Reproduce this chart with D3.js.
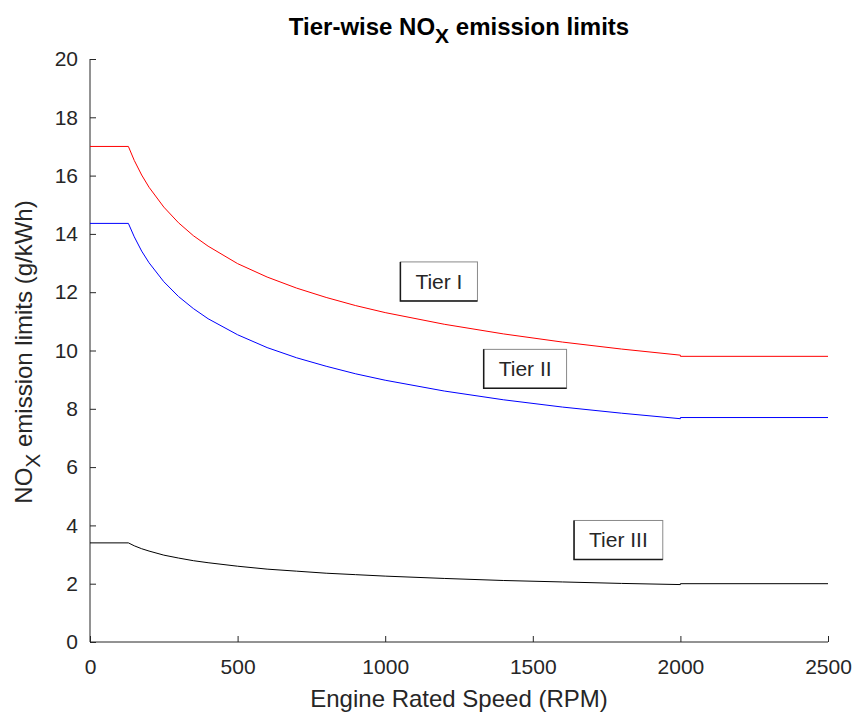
<!DOCTYPE html>
<html>
<head>
<meta charset="utf-8">
<script src="https://cdn.jsdelivr.net/npm/d3@7"></script>
<style>
  html, body { margin: 0; padding: 0; background: #fff; }
  svg { display: block; font-family: "Liberation Sans", Arial, Helvetica, sans-serif; }
</style>
</head>
<body>
<svg id="chart" width="854" height="713"></svg>
<script>
// Engine rated speed samples (RPM)
const rpm = [0, 130, 150, 175, 200, 250, 300, 350, 400, 500, 600, 700, 800, 900,
             1000, 1200, 1400, 1600, 1800, 2000, 2000, 2500];
// NOx limits (g/kWh) per tier at each speed sample
const tier1 = [17.00, 17.00, 16.52, 16.02, 15.60, 14.92, 14.38, 13.94, 13.58, 12.98, 12.52, 12.14, 11.82, 11.54,
               11.30, 10.90, 10.57, 10.29, 10.05, 9.84, 9.80, 9.80];
const tier2 = [14.36, 14.36, 13.90, 13.41, 13.01, 12.36, 11.85, 11.44, 11.09, 10.54, 10.10, 9.75, 9.46, 9.20,
               8.98, 8.61, 8.31, 8.06, 7.85, 7.66, 7.70, 7.70];
const tier3 = [3.40, 3.40, 3.30, 3.20, 3.12, 2.98, 2.88, 2.79, 2.72, 2.60, 2.50, 2.43, 2.36, 2.31,
               2.26, 2.18, 2.11, 2.06, 2.01, 1.97, 2.00, 2.00];
const seriesNames = ["Tier I", "Tier II", "Tier III"];
const seriesColors = ["#ff0000", "#0000ff", "#000000"];
// Label centre positions in data units (rpm, g/kWh)
const labelPos = [[1182, 12.37], [1474, 9.37], [1790, 3.50]];
const xTicks = [0, 500, 1000, 1500, 2000, 2500];
const yTicks = [0, 2, 4, 6, 8, 10, 12, 14, 16, 18, 20];

const svg = d3.select("#chart");
const mLeft = 90, mRight = 828, mTop = 59, mBottom = 642;
const axisColor = "#262626";
const font = "'Liberation Sans', Arial, sans-serif";

const x = d3.scaleLinear().domain([0, 2500]).range([mLeft, mRight]);
const y = d3.scaleLinear().domain([0, 20]).range([mBottom, mTop]);

// Axes with inward ticks
const xAxis = d3.axisBottom(x).tickValues(xTicks).tickSize(-6).tickPadding(17).tickFormat(d3.format("d"));
const yAxis = d3.axisLeft(y).tickValues(yTicks).tickSize(-6).tickPadding(12).tickFormat(d3.format("d"));

const gx = svg.append("g").attr("transform", `translate(0,${mBottom})`).call(xAxis);
const gy = svg.append("g").attr("transform", `translate(${mLeft},0)`).call(yAxis);
[gx, gy].forEach(g => {
  g.select(".domain").attr("stroke", axisColor).attr("stroke-width", 1);
  g.selectAll(".tick line").attr("stroke", axisColor);
  g.selectAll(".tick text").attr("fill", axisColor).style("font-size", "21px")
    .style("font-family", font);
});
gx.select(".domain").attr("d", `M${mLeft},0H${mRight}`);
gy.select(".domain").attr("d", `M0,${mBottom}V${mTop}`);

// Curves
const line = d3.line().x(d => x(d[0])).y(d => y(d[1]));
[tier1, tier2, tier3].forEach((vals, i) => {
  svg.append("path")
    .datum(rpm.map((r, k) => [r, vals[k]]))
    .attr("fill", "none")
    .attr("stroke", seriesColors[i])
    .attr("stroke-width", 1)
    .attr("d", line);
});

// Boxed tier labels
seriesNames.forEach((name, i) => {
  const g = svg.append("g");
  const t = g.append("text")
    .attr("x", x(labelPos[i][0]))
    .attr("y", y(labelPos[i][1]))
    .attr("text-anchor", "middle")
    .attr("dominant-baseline", "central")
    .attr("fill", axisColor)
    .style("font-size", "21px")
    .text(name);
  const bb = t.node().getBBox();
  const bx = bb.x - 15, by = bb.y - 8, bw = bb.width + 30, bh = bb.height + 16;
  g.insert("rect", "text")
    .attr("x", bx).attr("y", by).attr("width", bw).attr("height", bh)
    .attr("fill", "#fff")
    .attr("stroke", "#8a8a8a")
    .attr("stroke-width", 1);
  g.append("path")
    .attr("d", `M${bx},${by}V${by + bh}H${bx + bw}`)
    .attr("fill", "none")
    .attr("stroke", "#1a1a1a")
    .attr("stroke-width", 1.5);
});

// Title
const title = svg.append("text")
  .attr("x", (mLeft + mRight) / 2)
  .attr("y", 35)
  .attr("text-anchor", "middle")
  .attr("fill", "#000")
  .style("font-size", "24px")
  .style("font-weight", "bold");
title.append("tspan").text("Tier-wise NO");
title.append("tspan").attr("dy", 8).style("font-size", "21px").text("X");
title.append("tspan").attr("dy", -8).text(" emission limits");

// X axis label
svg.append("text")
  .attr("x", (mLeft + mRight) / 2)
  .attr("y", 707)
  .attr("text-anchor", "middle")
  .attr("fill", axisColor)
  .style("font-size", "24px")
  .text("Engine Rated Speed (RPM)");

// Y axis label
const yl = svg.append("text")
  .attr("transform", `translate(32,352) rotate(-90)`)
  .attr("text-anchor", "middle")
  .attr("fill", axisColor)
  .style("font-size", "24px");
yl.append("tspan").text("NO");
yl.append("tspan").attr("dy", 8).style("font-size", "21px").text("X");
yl.append("tspan").attr("dy", -8).text(" emission limits (g/kWh)");
</script>
</body>
</html>
